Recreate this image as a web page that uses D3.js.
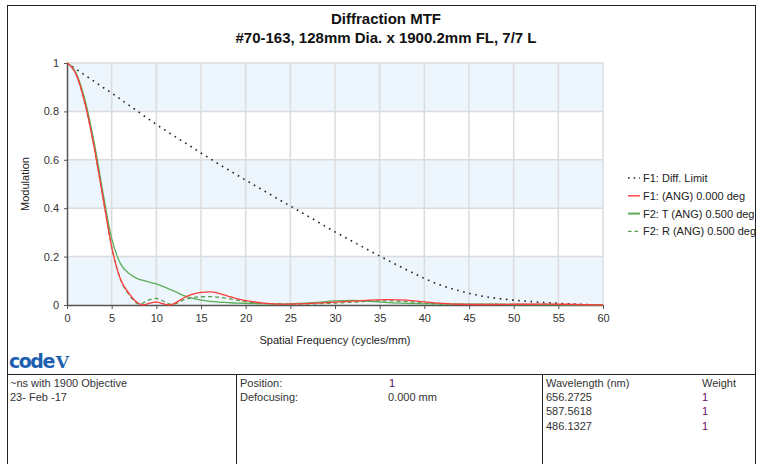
<!DOCTYPE html>
<html>
<head>
<meta charset="utf-8">
<script src="https://cdn.jsdelivr.net/npm/d3@7"></script>
<style>
  html, body { margin: 0; padding: 0; background: #fff; }
  svg { display: block; font-family: "Liberation Sans", Arial, sans-serif; }
</style>
</head>
<body>
<svg id="chart" width="760" height="464"></svg>
<script>
// Spatial frequency samples (cycles/mm)
const freq = [0, 1, 2, 3, 4, 5, 6, 7, 7.5, 8, 8.5, 9, 10, 11, 11.5, 12, 13, 14, 15, 16, 17, 18, 19, 20, 22, 24, 26, 28, 30, 32, 34, 36, 38, 40, 42, 44, 46, 48, 50, 52, 54, 56, 58, 60];

// F1: diffraction limit
const diffLimit = [1.0, 0.975, 0.95, 0.925, 0.9, 0.876, 0.85, 0.824, 0.811, 0.798, 0.785, 0.772, 0.746, 0.722, 0.71, 0.698, 0.675, 0.652, 0.628, 0.605, 0.582, 0.56, 0.538, 0.516, 0.473, 0.43, 0.388, 0.345, 0.302, 0.262, 0.222, 0.183, 0.146, 0.11, 0.08, 0.058, 0.04, 0.028, 0.02, 0.014, 0.009, 0.005, 0.002, 0.0];

// F1: (ANG) 0.000 deg
const f1Ang0 = [1.0, 0.955, 0.835, 0.66, 0.45, 0.24, 0.105, 0.045, 0.022, 0.007, 0.0, 0.005, 0.012, 0.003, 0.0, 0.006, 0.028, 0.044, 0.052, 0.054, 0.048, 0.037, 0.026, 0.018, 0.008, 0.004, 0.005, 0.008, 0.012, 0.016, 0.02, 0.022, 0.02, 0.013, 0.007, 0.003, 0.002, 0.002, 0.003, 0.003, 0.004, 0.003, 0.001, 0.0];

// F2: T (ANG) 0.500 deg
const f2Tan = [1.0, 0.96, 0.85, 0.68, 0.47, 0.275, 0.17, 0.128, 0.116, 0.107, 0.102, 0.097, 0.087, 0.073, 0.065, 0.057, 0.04, 0.028, 0.02, 0.015, 0.012, 0.01, 0.008, 0.007, 0.005, 0.004, 0.007, 0.011, 0.017, 0.019, 0.015, 0.01, 0.007, 0.005, 0.004, 0.003, 0.003, 0.003, 0.002, 0.002, 0.002, 0.001, 0.001, 0.0];

// F2: R (ANG) 0.500 deg
const f2Rad = [1.0, 0.955, 0.835, 0.66, 0.45, 0.24, 0.105, 0.04, 0.018, 0.004, 0.008, 0.018, 0.027, 0.012, 0.003, 0.004, 0.02, 0.03, 0.034, 0.035, 0.032, 0.027, 0.02, 0.014, 0.007, 0.004, 0.004, 0.005, 0.008, 0.012, 0.016, 0.017, 0.014, 0.008, 0.004, 0.003, 0.002, 0.002, 0.002, 0.002, 0.002, 0.001, 0.001, 0.0];

const xTicks = [0, 5, 10, 15, 20, 25, 30, 35, 40, 45, 50, 55, 60];
const yTicks = [0, 0.2, 0.4, 0.6, 0.8, 1];
const yTickLabels = ["0", "0.2", "0.4", "0.6", "0.8", "1"];

const legendNames = ["F1: Diff. Limit", "F1: (ANG) 0.000 deg", "F2: T (ANG) 0.500 deg", "F2: R (ANG) 0.500 deg"];

const titleLines = ["Diffraction MTF", "#70-163, 128mm Dia. x 1900.2mm FL, 7/7 L"];
const infoLeft = ["~ns with 1900 Objective", "23- Feb -17"];
const infoMidLabels = ["Position:", "Defocusing:"];
const infoMidValues = ["1", "0.000 mm"];
const wavelengths = ["656.2725", "587.5618", "486.1327"];
const weights = ["1", "1", "1"];

const svg = d3.select("#chart");

// outer frame
svg.append("rect").attr("x", 7.5).attr("y", 5.5).attr("width", 748).attr("height", 470)
  .attr("fill", "none").attr("stroke", "#222").attr("stroke-width", 1);

// titles
svg.selectAll("text.title").data(titleLines).join("text")
  .attr("class", "title")
  .attr("x", 386).attr("y", (d, i) => 24 + i * 19)
  .attr("text-anchor", "middle")
  .attr("font-size", 15).attr("font-weight", "bold").attr("fill", "#111")
  .text(d => d);

const plot = { left: 67, right: 603, top: 63, bottom: 305 };
const x = d3.scaleLinear().domain([0, 60]).range([plot.left, plot.right]);
const y = d3.scaleLinear().domain([0, 1]).range([plot.bottom, plot.top]);

// alternating bands
const bands = [[0, 0.2], [0.4, 0.6], [0.8, 1]];
svg.append("g").selectAll("rect").data(bands).join("rect")
  .attr("x", x(0)).attr("width", x(60) - x(0))
  .attr("y", d => y(d[1])).attr("height", d => y(d[0]) - y(d[1]))
  .attr("fill", "#edf5fd");

// grid
const grid = svg.append("g").attr("stroke", "#dcdcdc").attr("stroke-width", 1.5);
grid.selectAll("line.v").data(xTicks.filter(t => t > 0)).join("line")
  .attr("class", "v")
  .attr("x1", d => x(d)).attr("x2", d => x(d)).attr("y1", y(1)).attr("y2", y(0));
grid.selectAll("line.h").data(yTicks.filter(t => t > 0)).join("line")
  .attr("class", "h")
  .attr("x1", x(0)).attr("x2", x(60)).attr("y1", d => y(d)).attr("y2", d => y(d));

// axes
const xAxis = d3.axisBottom(x).tickValues(xTicks).tickSize(4).tickSizeOuter(0).tickFormat(d3.format("d"));
const yAxis = d3.axisLeft(y).tickValues(yTicks).tickSize(3).tickSizeOuter(0)
  .tickFormat((d, i) => yTickLabels[i]);

const gx = svg.append("g").attr("transform", `translate(0,${plot.bottom})`).call(xAxis);
const gy = svg.append("g").attr("transform", `translate(${plot.left},0)`).call(yAxis);
[gx, gy].forEach(g => {
  g.select(".domain").attr("stroke", "#555").attr("stroke-width", 1.5);
  g.selectAll(".tick line").attr("stroke", "#555");
  g.selectAll(".tick text").attr("fill", "#333").attr("font-size", 11)
    .attr("font-family", "Liberation Sans, Arial, sans-serif");
});
gx.selectAll(".tick text").attr("dy", "0.95em");
gy.selectAll(".tick text").attr("dx", "-2");

// axis titles
svg.append("text").attr("x", 335).attr("y", 344).attr("text-anchor", "middle")
  .attr("font-size", 11).attr("fill", "#222").text("Spatial Frequency (cycles/mm)");
svg.append("text").attr("transform", `translate(29,${(plot.top + plot.bottom) / 2}) rotate(-90)`)
  .attr("text-anchor", "middle").attr("font-size", 11).attr("fill", "#222").text("Modulation");

// curves
const series = [
  { name: legendNames[0], values: diffLimit, color: "#222", width: 1.6, dash: "1.6,4.6" },
  { name: legendNames[2], values: f2Tan, color: "#5aae5a", width: 1.3, dash: null },
  { name: legendNames[3], values: f2Rad, color: "#4f9f4f", width: 1.3, dash: "4,3" },
  { name: legendNames[1], values: f1Ang0, color: "#ff3b3b", width: 1.3, dash: null }
];
const line = d3.line().x(d => x(d[0])).y(d => y(d[1])).curve(d3.curveMonotoneX);
const curves = svg.append("g").attr("fill", "none");
series.forEach(s => {
  curves.append("path")
    .datum(freq.map((f, i) => [f, s.values[i]]))
    .attr("d", line)
    .attr("stroke", s.color)
    .attr("stroke-width", s.width)
    .attr("stroke-dasharray", s.dash);
});

// legend
const legendStyle = {
  [legendNames[0]]: { color: "#222", dash: "1.6,4", width: 1.4 },
  [legendNames[1]]: { color: "#ff3b3b", dash: null, width: 1.4 },
  [legendNames[2]]: { color: "#5aae5a", dash: null, width: 2 },
  [legendNames[3]]: { color: "#4f9f4f", dash: "3.5,3", width: 1.4 }
};
const legend = svg.append("g").attr("transform", "translate(628,178)");
legendNames.forEach((n, i) => {
  const st = legendStyle[n];
  legend.append("line").attr("x1", 0).attr("x2", 12).attr("y1", i * 17.8).attr("y2", i * 17.8)
    .attr("stroke", st.color).attr("stroke-width", st.width).attr("stroke-dasharray", st.dash);
  legend.append("text").attr("x", 15).attr("y", i * 17.8 + 4).attr("font-size", 11)
    .attr("fill", "#222").text(n);
});

// logo
const logo = svg.append("text").attr("x", 9).attr("y", 368).attr("font-size", 19)
  .attr("font-weight", "900").attr("fill", "#1d5fae").attr("letter-spacing", -1.5)
  .attr("font-family", "DejaVu Sans, sans-serif");
logo.append("tspan").text("code");
logo.append("tspan").attr("dx", 2).attr("font-family", "DejaVu Serif, serif").attr("font-size", 17).text("V");

// info table
const table = svg.append("g").attr("stroke", "#222").attr("stroke-width", 1);
table.append("line").attr("x1", 7.5).attr("x2", 755.5).attr("y1", 374.5).attr("y2", 374.5);
table.append("line").attr("x1", 236.5).attr("x2", 236.5).attr("y1", 374.5).attr("y2", 464);
table.append("line").attr("x1", 542.5).attr("x2", 542.5).attr("y1", 374.5).attr("y2", 464);

const rowY = i => 386.5 + i * 14.4;
const info = svg.append("g").attr("font-size", 11).attr("fill", "#333");
infoLeft.forEach((t, i) => info.append("text").attr("x", 10).attr("y", rowY(i)).text(t));
infoMidLabels.forEach((t, i) => info.append("text").attr("x", 240).attr("y", rowY(i)).text(t));
infoMidValues.forEach((t, i) => info.append("text").attr("x", i === 0 ? 389 : 388).attr("y", rowY(i))
  .attr("fill", i === 0 ? "#5a0a5a" : "#333").text(t));
info.append("text").attr("x", 546).attr("y", rowY(0)).text("Wavelength (nm)");
info.append("text").attr("x", 702).attr("y", rowY(0)).text("Weight");
wavelengths.forEach((t, i) => info.append("text").attr("x", 546).attr("y", rowY(i + 1)).text(t));
weights.forEach((t, i) => info.append("text").attr("x", 702).attr("y", rowY(i + 1))
  .attr("fill", "#6a0a6a").text(t));
</script>
</body>
</html>
